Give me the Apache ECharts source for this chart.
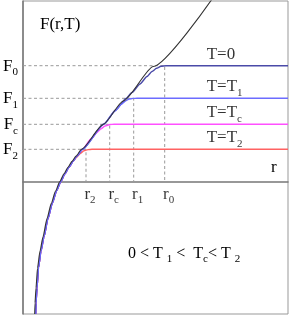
<!DOCTYPE html>
<html><head><meta charset="utf-8">
<script src="https://cdn.jsdelivr.net/npm/echarts@6/dist/echarts.min.js"></script>
<style>html,body{margin:0;padding:0;background:#fff}#c{width:291px;height:315px}</style>
</head><body><div id="c"></div>
<script>
// ---- data (r and F in arbitrary schematic units) ----
const levelSubs = ['2', 'c', '1', '0'];           // r_i / F_i subscripts
const rLevels = [63, 86.7, 110.7, 141.7];         // r2, rc, r1, r0
const fLevels = [32.7, 57.7, 83.7, 116.3];        // F2, Fc, F1, F0
const tSubs = ['2', 'c', '1', null];              // T=T2, T=Tc, T=T1, T=0
const tLabelR = 183.7;

// black curve (no saturation)
const rBlack = [11.7, 12, 13, 14.5, 17, 20, 24, 28.3, 32.5, 36.7, 41, 45, 49, 53, 58.5, 80, 100.3, 130.3, 188.7];
const fBlack = [-132, -121, -106, -86, -69, -54.7, -36.5, -21.3, -9, 0.3, 8.3, 14.8, 20.6, 25.9, 32.7, 57.4, 81.0, 115.5, 182.4];

// common rising branch of the coloured curves
const rRise = [12.7, 13, 14, 15.5, 18, 21, 25, 29.3, 33.5, 37.7, 42, 46, 50];
const fRise = [-132, -121, -106, -86, -69, -54.7, -36.5, -21.3, -9, 0.3, 8.3, 14.8, 20.6];

// tails of each coloured curve
const rT2 = [53.5, 57, 61, 65, 69, 265];
const fT2 = [24.5, 28.2, 31.2, 32.4, 32.7, 32.7];
const rTc = [54, 59.5, 68, 74, 78, 82, 87, 91, 265];
const fTc = [25.9, 32.7, 43, 49.5, 53.2, 56, 57.5, 57.7, 57.7];
const rT1 = [54, 59.5, 81, 92, 98, 102.5, 106, 110, 114, 265];
const fT1 = [25.9, 32.7, 58, 71, 77.5, 81, 83, 83.6, 83.7, 83.7];
const rT0 = [54, 59.5, 81, 93, 103, 109, 117, 124, 129, 133.5, 138, 143, 265];
const fT0 = [25.9, 32.7, 58, 72.3, 83.5, 89.5, 98, 105.5, 110.5, 113.7, 115.7, 116.3, 116.3];

const curveColors = { T0: '#4a4aa8', T1: '#6c6cff', Tc: '#ff50ff', T2: '#ff6262' };

// ---- build ----
const zip = (a, b) => a.map((v, i) => [v, b[i]]);
const FONT = 'Liberation Serif';
const makeRich = (fs) => ({
  m: { fontFamily: FONT, fontSize: fs, fontWeight: 'normal', color: '#000', verticalAlign: 'bottom', padding: [0, 0, 3, 0] },
  s: { fontFamily: FONT, fontSize: 11, fontWeight: 'normal', color: '#000', verticalAlign: 'bottom' }
});
const rich = makeRich(17);

const series = [];
// dashed guides
rLevels.forEach((r, i) => {
  series.push({
    type: 'line', data: [[0, fLevels[i]], [r, fLevels[i]], [r, 0]],
    symbol: 'none', silent: true, z: 1,
    lineStyle: { color: '#999', width: 1, type: [3, 2.5] }
  });
});
const curve = (rs, fs, color, w, z) => ({
  type: 'line', data: zip(rs, fs), symbol: 'none', smooth: 0.2, smoothMonotone: 'x',
  z: z, lineStyle: { color: color, width: w }
});
series.push(curve(rRise.concat(rT2), fRise.concat(fT2), curveColors.T2, 1.4, 2));
series.push(curve(rRise.concat(rTc), fRise.concat(fTc), curveColors.Tc, 1.4, 3));
series.push(curve(rRise.concat(rT0), fRise.concat(fT0), curveColors.T0, 1.4, 4));
series.push(curve(rRise.concat(rT1), fRise.concat(fT1), curveColors.T1, 1.4, 5));
series.push(curve(rBlack, fBlack, '#333', 1.1, 6));
// T labels
series.push({
  type: 'scatter', symbolSize: 0, silent: true, z: 7,
  data: fLevels.map((f) => [tLabelR, f]),
  label: {
    show: true, position: [0, 0], align: 'left', verticalAlign: 'bottom',
    formatter: p => tSubs[p.dataIndex] === null ? '{m|T=0}' : '{m|T=T}{s|' + tSubs[p.dataIndex] + '}',
    rich: rich
  }
});
// r_i labels below the r axis
series.push({
  type: 'scatter', symbolSize: 0, silent: true, z: 7,
  data: rLevels.map((r) => [r, 0]),
  label: {
    show: true, position: [4, 4], align: 'center', verticalAlign: 'top',
    formatter: p => '{m|r}{s|' + levelSubs[p.dataIndex] + '}',
    rich: rich
  }
});

const chart = echarts.init(document.getElementById('c'), null, { renderer: 'canvas' });
chart.setOption({
  animation: false,
  backgroundColor: '#fff',
  title: [
    { text: 'F(r,T)', left: 35, top: 11, textStyle: { fontFamily: FONT, fontSize: 17, fontWeight: 'normal', color: '#000' } },
    { text: '{m|0 < T }{s|1}{m| <  T}{s|c}{m|< T }{s|2}', left: 123, top: 241, textStyle: { fontWeight: 'normal', rich: makeRich(16) } }
  ],
  grid: { left: 23, right: 3, top: 1, bottom: 1, outerBoundsMode: 'none', containLabel: false, show: true, borderColor: '#999', borderWidth: 1 },
  xAxis: {
    type: 'value', min: 0, max: 265,
    axisLine: { show: true, onZero: true, lineStyle: { color: '#777', width: 1.5 } },
    axisTick: { show: false }, splitLine: { show: false }, axisLabel: { show: false },
    name: 'r', nameLocation: 'end', nameGap: -17,
    nameTextStyle: { fontFamily: FONT, fontSize: 17, color: '#000', verticalAlign: 'bottom', padding: [0, 0, 6, 0] }
  },
  yAxis: {
    type: 'value', min: -132, max: 181,
    axisLine: { show: true, lineStyle: { color: '#777', width: 1.5 } },
    axisTick: { show: false }, splitLine: { show: false },
    axisLabel: {
      show: true, customValues: fLevels, margin: 5, padding: [4, 0, 0, 0],
      formatter: v => '{m|F}{s|' + levelSubs[fLevels.indexOf(v)] + '}', rich: rich
    }
  },
  series: series
});
</script></body></html>
